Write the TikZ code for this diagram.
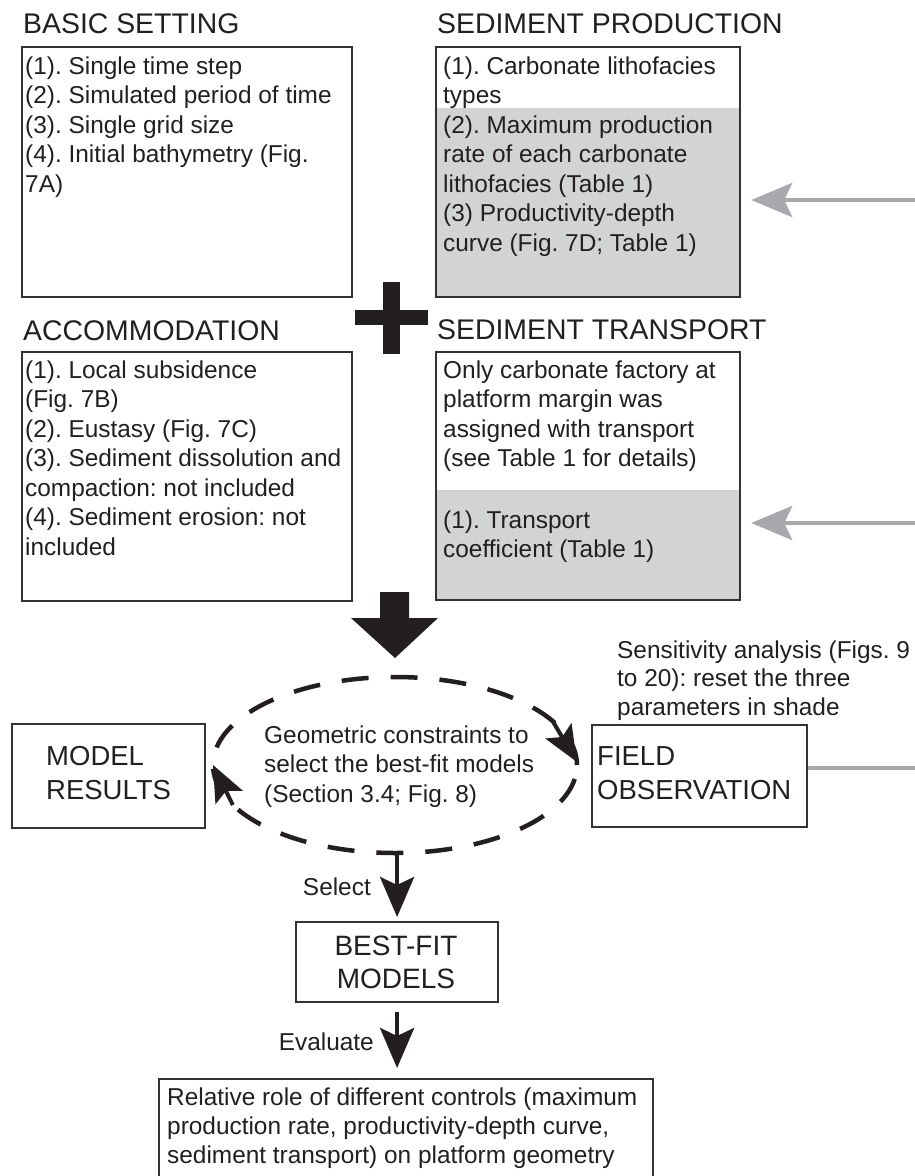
\documentclass[tikz,border=0pt]{standalone}
\usepackage{fontspec}
\setmainfont{Liberation Sans}
\usetikzlibrary{arrows.meta,shapes.geometric,calc}
\definecolor{boxline}{HTML}{333333}
\definecolor{shadegray}{HTML}{D1D3D4}
\definecolor{arrgray}{HTML}{A7A9AC}
\definecolor{ink}{HTML}{231F20}
\frenchspacing
\newcommand{\fBody}{\fontsize{24.4}{29.5}\selectfont}
\newcommand{\fHead}{\fontsize{28.4}{34}\selectfont}
\newcommand{\fBig}{\fontsize{27.5}{34}\selectfont}
\newcommand{\mytb}[3]{\parbox[t]{#1pt}{#2\raggedright #3}}
\newcommand{\mytc}[3]{\parbox[t]{#1pt}{#2\centering #3}}
\begin{document}
\begin{tikzpicture}[x=1pt,y=-1pt,
  boxst/.style={draw=boxline, line width=2.2pt, anchor=north west, inner sep=0pt},
  txt/.style={anchor=base west, inner sep=0pt, text=ink},
  head/.style={anchor=base west, inner sep=0pt, font=\fHead, text=ink},
  grayarr/.style={draw=arrgray, line width=4.5pt, -{Stealth[length=41pt,width=34pt,inset=8pt]}},
  blackarr/.style={draw=ink, line width=4.5pt, -{Stealth[length=40pt,width=34pt,inset=8pt]}},
  ellarr/.style={draw=ink, line width=4pt, -{Stealth[length=36pt,width=30pt,inset=7pt]}},
]
\useasboundingbox (0,0) rectangle (915,1176);
\clip (0,0) rectangle (915,1176);
\fill[white] (0,0) rectangle (915,1176);

% headings
\node[head] (h1) at (23,33) {BASIC SETTING};
\node[head] (h2) at (437,33) {SEDIMENT PRODUCTION};
\node[head] (h3) at (23,340) {ACCOMMODATION};
\node[head] (h4) at (437,339) {SEDIMENT TRANSPORT};

% shading
\fill[shadegray] (435,108) rectangle (739,296);
\fill[shadegray] (435,490) rectangle (739,599);

% boxes
\node[boxst, minimum width=330pt, minimum height=250pt] (bs) at (21,46) {};
\node[boxst, minimum width=304pt, minimum height=250pt] (bp) at (435,46) {};
\node[boxst, minimum width=330pt, minimum height=249pt] (ba) at (21,351) {};
\node[boxst, minimum width=304pt, minimum height=248pt] (bt) at (435,351) {};

\node[txt] (t1) at (25,74) {\mytb{325}{\fBody}{(1). Single time step\\(2). Simulated period of time\\(3). Single grid size\\(4). Initial bathymetry (Fig.\\7A)}};
\node[txt] (t2) at (443,74) {\mytb{295}{\fBody}{(1). Carbonate lithofacies\\types\\(2). Maximum production\\rate of each carbonate\\lithofacies (Table 1)\\(3) Productivity-depth\\curve (Fig. 7D; Table 1)}};
\node[txt] (t3) at (25,378) {\mytb{325}{\fBody}{(1). Local subsidence\\(Fig. 7B)\\(2). Eustasy (Fig. 7C)\\(3). Sediment dissolution and\\compaction: not included\\(4). Sediment erosion: not\\included}};
\node[txt] (t4) at (443,378) {\mytb{295}{\fBody}{Only carbonate factory at\\platform margin was\\assigned with transport\\(see Table 1 for details)}};
\node[txt] (t5) at (443,528) {\mytb{295}{\fBody}{(1). Transport\\coefficient (Table 1)}};

% plus sign
\fill[ink] (383,282) rectangle (400,354);
\fill[ink] (355,310) rectangle (428,325);

% gray arrows from the right
\coordinate (rp1) at (920,200);
\coordinate (rp2) at (920,523);
\coordinate (rp3) at (920,768);
\draw[grayarr, shorten >=10pt] (rp1) -- (rp1 -| bp.east);
\draw[grayarr, shorten >=10pt] (rp2) -- (rp2 -| bt.east);

% big black arrow
\fill[ink] (380,592) -- (409,592) -- (409,618) -- (438,618) -- (395,658) -- (351,618) -- (380,618) -- cycle;

% ellipse
\node[draw=ink, ellipse, line width=4.5pt, dash pattern=on 27pt off 22pt,
      minimum width=364pt, minimum height=176pt, inner sep=0pt] (ell) at (395,765) {};
\node[txt] (geo) at (264,743) {\mytb{300}{\fBody}{Geometric constraints to\\select the best-fit models\\(Section 3.4; Fig. 8)}};
\draw[ellarr] ($(ell.center)+(30:182pt and 88pt)$) -- ($(ell.center)+(2:182pt and 88pt)$);
\draw[ellarr] ($(ell.center)+(207:182pt and 88pt)$) -- ($(ell.center)+(180:182pt and 88pt)$);

% model results / field observation
\node[boxst, minimum width=193pt, minimum height=104pt] (mr) at (11,723) {};
\node[txt] (mrt) at (46,765) {\mytb{150}{\fBig}{MODEL\\RESULTS}};
\node[boxst, minimum width=215pt, minimum height=102pt] (fo) at (591,724) {};
\node[txt] (fot) at (597,765) {\mytb{210}{\fBig}{FIELD\\OBSERVATION}};
\draw[arrgray, line width=4.5pt] (rp3 -| fo.east) -- (rp3);
\node[txt] (sens) at (617,658) {\mytb{300}{\fontsize{24.4}{28.7}\selectfont}{Sensitivity analysis (Figs. 9\\to 20): reset the three\\parameters in shade}};

% best-fit
\node[boxst, minimum width=202pt, minimum height=80pt] (bf) at (295,921) {};
\node[anchor=base, inner sep=0pt, text=ink] (bft) at (396,955) {\mytc{200}{\fontsize{28}{33}\selectfont}{BEST-FIT\\MODELS}};
\draw[blackarr, shorten >=4pt] (bf.north |- ell.south) -- (bf.north);
\node[anchor=base east, inner sep=0pt, text=ink, font=\fBody] (sel) at (371,895) {Select};

% bottom box
\node[boxst, minimum width=494pt, minimum height=130pt] (bot) at (158,1078) {};
\node[txt] (bott) at (167,1105) {\mytb{490}{\fontsize{24.4}{29}\selectfont}{Relative role of different controls (maximum\\production rate, productivity-depth curve,\\sediment transport) on platform geometry}};
\draw[blackarr, shorten <=9pt, shorten >=10pt] (bf.south) -- (bf.south |- bot.north);
\node[anchor=base east, inner sep=0pt, text=ink, font=\fBody] (ev) at (374,1050) {Evaluate};
\end{tikzpicture}
\end{document}
